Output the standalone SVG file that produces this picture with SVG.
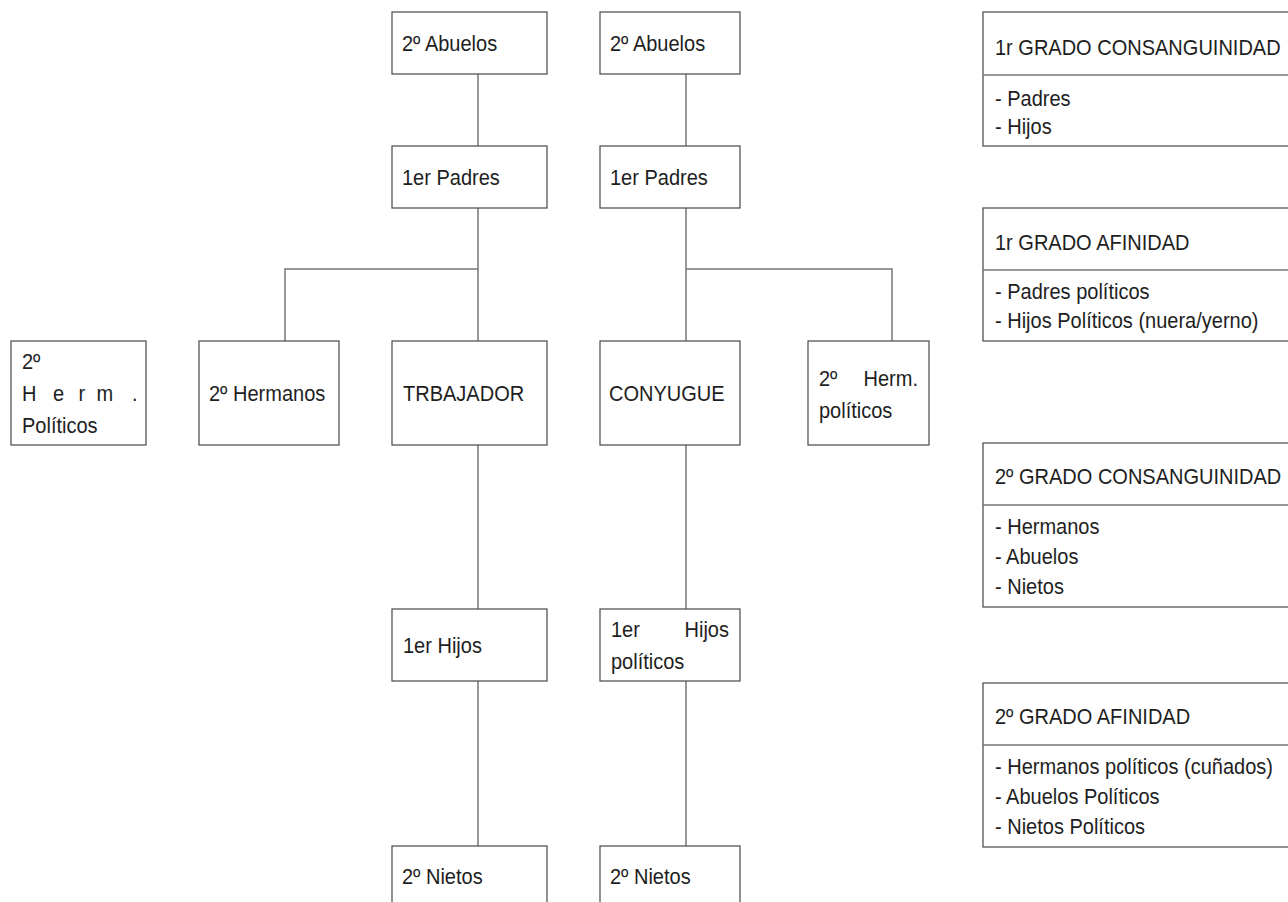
<svg xmlns="http://www.w3.org/2000/svg" width="1288" height="902" viewBox="0 0 1288 902">
<style>
.box{fill:#fff;stroke:#555;stroke-width:1.3}
.conn{fill:none;stroke:#777;stroke-width:1.5}
.div{stroke:#777;stroke-width:1.5}
text{font-family:"Liberation Sans",Arial,sans-serif;font-size:22px;fill:#1e1e1e;transform-box:fill-box;transform-origin:0 50%;transform:scale(0.91,1)}
text.end{transform-origin:100% 50%}
</style>
<rect width="1288" height="902" fill="#fff"/>
<g id="connectors">
<path class="conn" d="M478 74V146M478 208V341M478 445V609M478 681V846M478 269H285V341"/>
<path class="conn" d="M686 74V146M686 208V341M686 445V609M686 681V846M686 269H892V341"/>
</g>
<g id="abuelos-l"><rect class="box" x="392" y="12" width="155" height="62"/><text x="402" y="51">2º Abuelos</text></g>
<g id="abuelos-r"><rect class="box" x="600" y="12" width="140" height="62"/><text x="610" y="51">2º Abuelos</text></g>
<g id="padres-l"><rect class="box" x="392" y="146" width="155" height="62"/><text x="402" y="185">1er Padres</text></g>
<g id="padres-r"><rect class="box" x="600" y="146" width="140" height="62"/><text x="610" y="185">1er Padres</text></g>
<g id="herm-politicos-l"><rect class="box" x="11" y="341" width="135" height="104"/>
<text x="22" y="369">2º</text>
<text x="22 56 84 104 143" y="401">Herm.</text>
<text x="22" y="433">Políticos</text></g>
<g id="hermanos"><rect class="box" x="199" y="341" width="140" height="104"/><text x="209" y="401">2º Hermanos</text></g>
<g id="trabajador"><rect class="box" x="392" y="341" width="155" height="104"/><text x="403" y="401">TRBAJADOR</text></g>
<g id="conyugue"><rect class="box" x="600" y="341" width="140" height="104"/><text x="609" y="401">CONYUGUE</text></g>
<g id="herm-politicos-r"><rect class="box" x="808" y="341" width="121" height="104"/>
<text x="819" y="386">2º</text><text class="end" x="918" y="386" text-anchor="end">Herm.</text>
<text x="819" y="418">políticos</text></g>
<g id="hijos"><rect class="box" x="392" y="609" width="155" height="72"/><text x="403" y="653">1er Hijos</text></g>
<g id="hijos-politicos"><rect class="box" x="600" y="609" width="140" height="72"/>
<text x="611" y="637">1er</text><text class="end" x="729" y="637" text-anchor="end">Hijos</text>
<text x="611" y="669">políticos</text></g>
<g id="nietos-l"><rect class="box" x="392" y="846" width="155" height="70"/><text x="402" y="884">2º Nietos</text></g>
<g id="nietos-r"><rect class="box" x="600" y="846" width="140" height="70"/><text x="610" y="884">2º Nietos</text></g>
<g id="legend-1c"><rect class="box" x="983" y="12" width="320" height="134"/><line class="div" x1="983" y1="75" x2="1300" y2="75"/>
<text x="995" y="55">1r GRADO CONSANGUINIDAD</text>
<text x="995" y="106">- Padres</text>
<text x="995" y="134">- Hijos</text></g>
<g id="legend-1a"><rect class="box" x="983" y="208" width="320" height="133"/><line class="div" x1="983" y1="270" x2="1300" y2="270"/>
<text x="995" y="250">1r GRADO AFINIDAD</text>
<text x="995" y="299">- Padres políticos</text>
<text x="995" y="328">- Hijos Políticos (nuera/yerno)</text></g>
<g id="legend-2c"><rect class="box" x="983" y="443" width="320" height="164"/><line class="div" x1="983" y1="505" x2="1300" y2="505"/>
<text x="995" y="484">2º GRADO CONSANGUINIDAD</text>
<text x="995" y="534">- Hermanos</text>
<text x="995" y="564">- Abuelos</text>
<text x="995" y="594">- Nietos</text></g>
<g id="legend-2a"><rect class="box" x="983" y="683" width="320" height="164"/><line class="div" x1="983" y1="745" x2="1300" y2="745"/>
<text x="995" y="724">2º GRADO AFINIDAD</text>
<text x="995" y="774">- Hermanos políticos (cuñados)</text>
<text x="995" y="804">- Abuelos Políticos</text>
<text x="995" y="834">- Nietos Políticos</text></g>
</svg>
